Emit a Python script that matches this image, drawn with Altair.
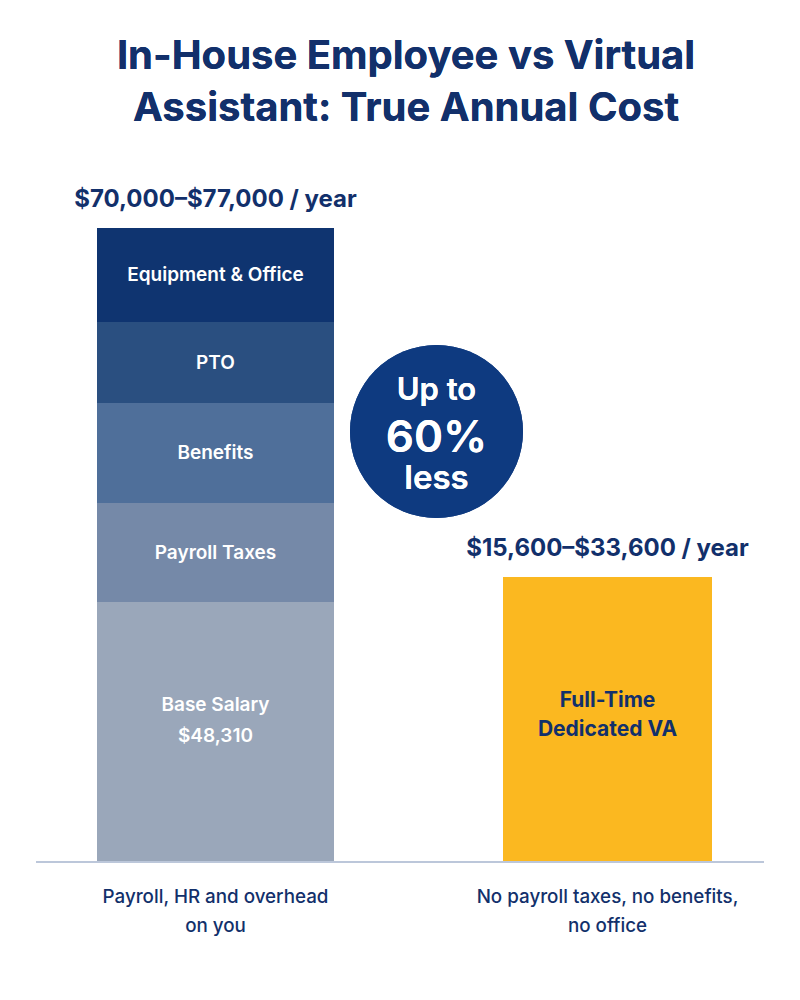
import pandas as pd
import altair as alt

# values (heights in the picture's own units)
categories = ["In-House Employee", "Virtual Assistant"]
segments = ["Base Salary", "Payroll Taxes", "Benefits", "PTO", "Equipment & Office"]
segment_heights = [260, 99, 100, 81, 94]
segment_labels = [["Base Salary", "$48,310"], "Payroll Taxes", "Benefits", "PTO",
                  "Equipment & Office"]
va_height = 285
va_label = ["Full-Time", "Dedicated VA"]
range_labels = ["$70,000\u2013$77,000 / year", "$15,600\u2013$33,600 / year"]
foot_labels = [["Payroll, HR and overhead", "on you"],
               ["No payroll taxes, no benefits,", "no office"]]
title_lines = ["In-House Employee vs Virtual", "Assistant: True Annual Cost"]
badge_lines = ["Up to", "60%", "less"]

NAVY = "#12306b"
FONT = "Inter"
segment_colors = ["#9aa7ba", "#7589a8", "#4f6f9a", "#2a4f80", "#0f3470"]

# stacked segments of the in-house bar
stack = pd.DataFrame({
    "category": categories[0],
    "segment": segments,
    "height": segment_heights,
})
stack["y1"] = stack["height"].cumsum()
stack["y0"] = stack["y1"] - stack["height"]
stack["mid"] = (stack["y0"] + stack["y1"]) / 2
stack["label"] = segment_labels

va = pd.DataFrame({"category": [categories[1]], "y0": [0], "y1": [va_height],
                   "mid": [va_height / 2], "label": [va_label]})

tops = pd.DataFrame({"category": categories,
                     "top": [stack["y1"].max(), va_height],
                     "label": range_labels,
                     "foot": foot_labels})

x_enc = alt.X("category:N", scale=alt.Scale(domain=categories, range=[11.5, 795.5],
                                            paddingInner=0, paddingOuter=0),
              axis=None)
y_scale = alt.Scale(domain=[0, 854], nice=False)

left_bar = alt.Chart(stack).mark_bar(size=237).encode(
    x=x_enc,
    y=alt.Y("y0:Q", scale=y_scale, axis=None),
    y2="y1:Q",
    color=alt.Color("segment:N", scale=alt.Scale(domain=segments, range=segment_colors),
                    legend=None),
)

# two-line base salary label: first line sits above the segment's centre
seg_text = alt.Chart(stack).transform_calculate(
    mid="datum.segment === 'Base Salary' ? datum.mid + 27.5 : datum.mid"
).mark_text(
    font=FONT, fontSize=19, fontWeight=600, color="white", lineHeight=31,
    baseline="middle",
).encode(x=x_enc, y=alt.Y("mid:Q", scale=y_scale), text="label")

va_bar = alt.Chart(va).mark_bar(size=209, color="#fbb820").encode(
    x=x_enc, y=alt.Y("y0:Q", scale=y_scale), y2="y1:Q"
)
va_text = alt.Chart(va).mark_text(
    font=FONT, fontSize=21, fontWeight=700, color=NAVY, lineHeight=29,
    baseline="middle", dy=-19
).encode(x=x_enc, y=alt.Y("mid:Q", scale=y_scale), text="label")

range_text = alt.Chart(tops).mark_text(
    font=FONT, fontSize=24, fontWeight=700, color=NAVY, baseline="alphabetic", dy=-21
).encode(x=x_enc, y=alt.Y("top:Q", scale=y_scale), text="label:N")

foot_text = alt.Chart(tops).mark_text(
    font=FONT, fontSize=18.8, fontWeight=500, color=NAVY, baseline="alphabetic",
    lineHeight=29, dy=41
).encode(x=x_enc, y=alt.datum(0), text="foot")

baseline = alt.Chart(tops).mark_rule(color="#bcc7da", strokeWidth=2).encode(
    x=alt.value(28), x2=alt.value(756), y=alt.datum(0)
)

title = alt.Chart(tops).mark_text(
    text=title_lines, font=FONT, fontSize=40, fontWeight=700, color=NAVY,
    baseline="alphabetic", lineHeight=52,
).encode(x=alt.value(398), y=alt.value(61))

badge = alt.Chart(tops).mark_point(
    shape="circle", size=173 * 173, filled=True, opacity=1, color="#0e3a80"
).encode(x=alt.value(428.5), y=alt.value(423.5))

badge_sizes = [31, 44, 33]
badge_dy = [-31.5, 20.5, 57.5]
badge_text = [
    alt.Chart(tops).mark_text(
        text=line, font=FONT, fontSize=size, fontWeight=600, color="white",
        baseline="alphabetic", dy=dy,
    ).encode(x=alt.value(428.5), y=alt.value(423.5))
    for line, size, dy in zip(badge_lines, badge_sizes, badge_dy)
]

chart = alt.layer(
    left_bar, seg_text, va_bar, va_text, range_text, baseline, foot_text, title,
    badge, *badge_text
).properties(
    width=784, height=854,
    autosize=alt.AutoSizeParams(type="none"),
    padding={"left": 0, "top": 0, "right": 0, "bottom": 130},
).configure(background="white").configure_view(strokeWidth=0)

chart.save("out.html", embed_options={"renderer": "svg", "actions": False})
